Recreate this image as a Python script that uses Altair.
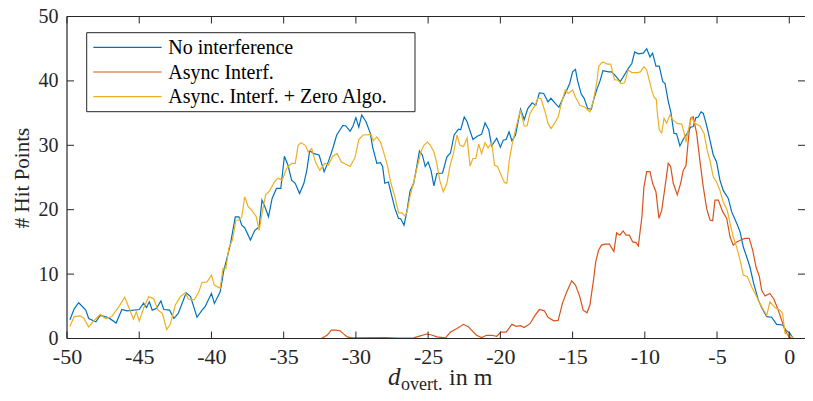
import altair as alt
import pandas as pd

FONT = "Liberation Serif"
AX = "#262626"

series_names = ["No interference", "Async Interf.", "Async. Interf. + Zero Algo."]
series_colors = ["#0072BD", "#D95319", "#EDB120"]

x_ticks = [-50, -45, -40, -35, -30, -25, -20, -15, -10, -5, 0]
y_ticks = [0, 10, 20, 30, 40, 50]

blue_x = [-49.8, -49.5, -49.19, -48.7, -48.5, -48.0, -47.7, -47.1, -46.6, -46.2, -45.85, -45.0, -44.7, -44.5, -44.3,
          -44.1, -43.8, -43.5, -43.3, -42.9, -42.6, -42.3, -41.75, -41.45, -41.0, -40.65, -40.45, -40.0, -39.8, -39.4,
          -39.15, -38.7, -38.35, -38.1, -37.9, -37.7, -37.3, -37.0, -36.7, -36.5, -36.3, -36.05, -35.8, -35.5, -35.2,
          -34.95, -34.7, -34.45, -34.2, -33.9, -33.6, -33.4, -33.2, -32.9, -32.55, -32.2, -31.9, -31.6, -31.33, -30.9,
          -30.7, -30.4, -30.2, -30.0, -29.8, -29.6, -29.3, -29.0, -28.85, -28.55, -28.3, -28.15, -28.0, -27.75, -27.5,
          -27.3, -27.05, -26.9, -26.67, -26.5, -26.25, -26.0, -25.85, -25.6, -25.4, -25.2, -25.0, -24.8, -24.6, -24.4,
          -24.0, -23.7, -23.45, -23.2, -22.9, -22.75, -22.5, -22.3, -22.2, -21.9, -21.6, -21.3, -21.06, -20.8, -20.6,
          -20.25, -20.0, -19.8, -19.6, -19.4, -19.2, -18.95, -18.75, -18.6, -18.35, -18.1, -17.8, -17.55, -17.3, -17.0,
          -16.7, -16.5, -16.2, -15.95, -15.65, -15.4, -15.2, -15.0, -14.8, -14.65, -14.4, -14.2, -13.95, -13.7, -13.55,
          -13.3, -13.1, -12.9, -12.5, -12.3, -12.07, -11.7, -11.5, -11.15, -10.9, -10.7, -10.45, -10.1, -9.87, -9.64,
          -9.46, -9.23, -9.0, -8.76, -8.6, -8.37, -8.2, -7.98, -7.8, -7.57, -7.3, -7.06, -6.83, -6.65, -6.46,
          -6.3, -6.1, -5.95, -5.72, -5.49, -5.26, -5.03, -4.8, -4.57, -4.22, -3.99, -3.64, -3.41, -3.18, -2.95,
          -2.72, -2.49, -2.14, -1.91, -1.56, -1.22, -0.87, -0.46, -0.23, 0.05, 0.28, 2.0]
blue_y = [2.9, 4.6, 5.55, 4.4, 3.1, 2.6, 3.6, 3.2, 2.4, 4.5, 4.3, 4.5, 5.5, 4.8, 5.7,
          4.4, 4.7, 5.85, 4.5, 4.4, 3.1, 3.9, 7.1, 6.5, 3.3, 4.4, 4.9, 7.0, 5.45, 7.2,
          10.5, 14.5, 18.9, 18.9, 17.6, 17.2, 15.3, 16.8, 17.3, 21.5, 20.45, 18.9, 21.75, 23.3, 23.3,
          28.3, 26.9, 24.6, 24.1, 22.5, 24.1, 26.1, 29.15, 28.7, 28.5, 25.9, 27.5, 29.5, 31.6, 33.1,
          33.0, 32.2, 33.0, 34.3, 32.8, 34.7, 33.65, 31.85, 29.8, 27.2, 27.3, 26.7, 24.1, 24.3, 22.0,
          20.2, 18.65, 18.6, 17.6, 19.4, 22.9, 24.1, 25.9, 29.1, 28.5, 26.7, 27.4, 26.1, 23.7, 25.6,
          25.7, 28.2, 28.8, 31.6, 32.5, 32.4, 34.4, 33.65, 32.9, 30.9, 31.4, 31.7, 33.5, 32.4, 29.9,
          31.1, 29.7, 30.8, 30.9, 32.1, 30.7, 31.6, 33.9, 35.6, 34.0, 35.7, 36.6, 36.2, 38.15, 38.05,
          36.75, 37.3, 36.5, 35.9, 37.4, 38.6, 39.6, 41.4, 41.8, 40.0, 37.95, 37.3, 35.7, 35.6, 37.0,
          38.8, 40.0, 41.6, 41.4, 41.4, 40.9, 39.9, 40.6, 41.9, 42.7, 44.5, 44.2, 44.3, 45.0, 43.7,
          44.3, 42.3, 42.3, 39.9, 39.6, 36.75, 35.2, 31.85, 31.8, 29.9, 31.1, 31.85, 32.8, 32.9, 34.3,
          34.4, 35.2, 34.95, 33.1, 30.8, 28.5, 27.4, 24.6, 23.0, 21.75, 19.7, 17.9, 16.6, 14.2, 12.7,
          11.1, 8.8, 5.96, 4.8, 3.4, 3.3, 2.2, 2.1, 1.3, 0.8, 0.0, 0.0]

red_x = [-50.0, -32.4, -32.0, -31.7, -31.4, -31.1, -30.9, -30.6, -30.3, -28.0, -27.0, -26.0, -25.6, -25.1, -24.75,
         -24.4, -23.8, -23.45, -23.0, -22.55, -22.2, -22.0, -21.65, -21.3, -20.95, -20.6, -20.25, -19.96, -19.6, -19.2,
         -18.9, -18.6, -18.35, -17.95, -17.6, -17.3, -16.95, -16.7, -16.3, -16.0, -15.7, -15.4, -15.06, -14.8, -14.5,
         -14.27, -14.0, -13.8, -13.55, -13.4, -13.2, -13.0, -12.76, -12.45, -12.14, -11.95, -11.72, -11.5, -11.3, -11.07,
         -10.84, -10.6, -10.45, -10.2, -10.06, -9.87, -9.64, -9.46, -9.23, -9.02, -8.83, -8.6, -8.38, -8.21, -8.03,
         -7.75, -7.52, -7.34, -7.15, -6.99, -6.83, -6.65, -6.41, -6.18, -5.95, -5.72, -5.49, -5.3, -5.14, -4.91,
         -4.61, -4.33, -4.1, -3.88, -3.64, -3.36, -3.07, -2.77, -2.53, -2.3, -2.07, -1.91, -1.68, -1.34, -1.06,
         -0.76, -0.53, -0.3, 0.0, 0.2, 2.0]
red_y = [0.0, 0.0, 0.5, 1.3, 1.3, 1.2, 0.8, 0.25, 0.1, 0.15, 0.05, 0.1, 0.37, 0.7, 0.55,
         0.25, 0.1, 1.0, 1.55, 2.2, 1.8, 1.3, 0.5, 0.15, 0.5, 0.5, 0.35, 1.0, 1.0, 2.2,
         1.9, 2.0, 1.7, 2.3, 3.6, 4.5, 4.3, 3.3, 2.75, 2.8, 5.45, 7.25, 8.95, 8.3, 6.5,
         4.4, 4.0, 5.2, 9.1, 11.9, 13.7, 14.5, 14.65, 14.65, 13.5, 16.4, 16.05, 16.7, 16.05, 16.05,
         15.0, 14.9, 14.35, 18.9, 23.55, 25.9, 25.9, 24.1, 22.8, 18.65, 19.9, 23.55, 27.2, 26.7, 24.1,
         22.3, 24.1, 26.1, 26.8, 30.8, 34.2, 34.4, 31.85, 27.5, 23.5, 20.2, 18.4, 18.3, 21.5, 21.5,
         19.7, 18.65, 15.8, 14.5, 15.0, 15.3, 15.55, 15.55, 13.7, 11.1, 9.6, 7.5, 6.6, 7.0, 6.1,
         4.4, 2.85, 1.3, 0.2, 0.0, 0.0]

yellow_x = [-49.8, -49.5, -49.1, -48.85, -48.5, -48.15, -47.7, -47.35, -46.9, -46.4, -46.0, -45.7, -45.4, -45.2, -45.0,
            -44.7, -44.35, -44.0, -43.7, -43.4, -43.1, -42.85, -42.5, -42.15, -41.8, -41.6, -41.2, -40.9, -40.65, -40.3,
            -40.0, -39.8, -39.4, -39.2, -39.0, -38.8, -38.55, -38.3, -38.1, -37.9, -37.7, -37.45, -37.2, -36.9, -36.7,
            -36.5, -36.25, -35.95, -35.65, -35.4, -35.1, -34.8, -34.45, -34.2, -34.0, -33.8, -33.5, -33.3, -33.06, -32.8,
            -32.5, -32.15, -31.9, -31.6, -31.3, -31.0, -30.4, -30.06, -29.8, -29.5, -29.15, -28.95, -28.8, -28.55, -28.3,
            -28.05, -27.8, -27.6, -27.3, -27.05, -26.8, -26.6, -26.45, -26.26, -26.0, -25.75, -25.5, -25.3, -25.05, -24.85,
            -24.6, -24.4, -24.2, -23.95, -23.7, -23.5, -23.25, -23.0, -22.8, -22.55, -22.3, -22.1, -21.9, -21.7, -21.5,
            -21.3, -21.06, -20.85, -20.6, -20.4, -20.2, -19.9, -19.7, -19.55, -19.4, -19.2, -18.9, -18.6, -18.35, -18.15,
            -17.95, -17.6, -17.4, -17.2, -16.9, -16.7, -16.5, -16.25, -16.0, -15.75, -15.5, -15.3, -15.0, -14.8, -14.5,
            -14.15, -13.8, -13.55, -13.3, -13.2, -13.0, -12.87, -12.6, -12.36, -12.1, -11.84, -11.67, -11.4, -11.15, -10.9,
            -10.5, -10.3, -10.06, -9.87, -9.69, -9.53, -9.37, -9.2, -9.14, -9.0, -8.83, -8.67, -8.49, -8.26, -8.03,
            -7.75, -7.45, -7.29, -7.15, -6.99, -6.76, -6.53, -6.18, -5.9, -5.68, -5.49, -5.26, -5.03, -4.8, -4.57,
            -4.29, -4.1, -3.88, -3.64, -3.41, -3.18, -2.9, -2.6, -2.37, -2.03, -1.75, -1.56, -1.34, -0.99, -0.64,
            -0.46, -0.3, 0.0, 0.28, 2.0]
yellow_y = [1.9, 3.4, 3.5, 3.2, 1.8, 2.75, 3.75, 3.1, 3.4, 5.0, 6.4, 4.7, 3.0, 4.15, 2.7,
            4.7, 6.5, 6.2, 4.4, 3.9, 1.4, 2.2, 5.2, 6.5, 7.1, 6.1, 6.0, 7.1, 8.7, 8.8,
            9.85, 8.3, 7.8, 10.9, 10.9, 14.0, 15.3, 18.4, 18.4, 18.9, 22.0, 20.45, 19.9, 18.9, 16.8,
            19.4, 22.3, 23.0, 24.3, 24.9, 24.6, 26.4, 27.2, 27.2, 30.0, 30.4, 30.0, 29.0, 29.5, 27.4,
            26.1, 27.2, 26.9, 28.3, 28.7, 27.4, 26.7, 28.1, 30.9, 31.6, 31.65, 31.7, 30.7, 31.3, 30.5,
            28.7, 26.7, 24.3, 22.0, 19.5, 19.5, 19.0, 19.7, 22.0, 24.3, 26.7, 29.0, 30.0, 30.5, 30.0,
            29.0, 27.2, 24.6, 22.8, 24.1, 26.7, 28.7, 31.6, 30.0, 29.8, 31.1, 26.8, 27.95, 27.95, 30.2,
            28.7, 30.4, 29.6, 30.4, 26.9, 26.7, 25.1, 24.2, 24.1, 27.4, 30.0, 32.9, 35.5, 33.0, 33.0,
            34.95, 36.2, 37.3, 37.3, 35.2, 33.4, 32.6, 33.4, 34.4, 36.75, 38.6, 38.05, 38.6, 37.5, 36.2,
            35.9, 35.2, 37.0, 40.1, 42.2, 42.8, 42.9, 42.6, 42.6, 40.2, 40.1, 39.6, 39.7, 41.7, 41.3,
            41.3, 41.4, 42.2, 41.7, 40.1, 38.6, 37.5, 37.1, 35.2, 32.4, 31.9, 34.2, 33.4, 34.7, 33.9,
            33.4, 33.3, 32.1, 30.5, 32.4, 34.3, 33.4, 33.0, 31.85, 29.25, 27.6, 25.1, 24.3, 23.0, 21.2,
            19.9, 17.9, 15.8, 14.2, 12.2, 9.85, 9.6, 8.0, 7.0, 5.45, 4.3, 3.6, 5.7, 4.8, 4.4,
            3.9, 0.8, 0.6, 0.0, 0.0]

title_parts = ["d", "overt.", "in m"]

W, H = 738, 322

rows = []
for name, xs, ys in [(series_names[0], blue_x, blue_y),
                     (series_names[1], red_x, red_y),
                     (series_names[2], yellow_x, yellow_y)]:
    for i, (a, b) in enumerate(zip(xs, ys)):
        rows.append({"series": name, "x": a, "y": b, "idx": i})
df = pd.DataFrame(rows)

xscale = alt.Scale(domain=[-50, 1.09], nice=False, zero=False)
yscale = alt.Scale(domain=[0, 50], nice=False, zero=False)
cscale = alt.Scale(domain=series_names, range=series_colors)

xaxis = alt.Axis(values=x_ticks, title=None, ticks=False, tickSize=0, domain=False, grid=False,
                 labelFont=FONT, labelFontSize=22, labelColor=AX, labelPadding=8,
                 labelFlush=False, labelExpr="datum.value + ''")
yaxis = alt.Axis(values=y_ticks, title="# Hit Points", ticks=False, tickSize=0, domain=False, grid=False,
                 labelFont=FONT, labelFontSize=20, labelColor=AX, labelPadding=9,
                 labelFlush=False, titleFont=FONT, titleFontSize=21, titleFontWeight="normal",
                 titleColor=AX, titlePadding=6)

lines = alt.Chart(df).mark_line(strokeWidth=1.2, clip=True).encode(
    x=alt.X("x:Q", scale=xscale, axis=xaxis),
    y=alt.Y("y:Q", scale=yscale, axis=yaxis),
    color=alt.Color("series:N", scale=cscale, legend=None),
    order="idx:Q",
)

xt = pd.DataFrame({"t": x_ticks})
yt = pd.DataFrame({"t": y_ticks})
one = pd.DataFrame({"k": [0]})
tick_style = dict(stroke=AX, strokeWidth=1)
bottom_ticks = alt.Chart(xt).mark_rule(**tick_style).encode(
    x=alt.X("t:Q", scale=xscale, axis=xaxis), y=alt.value(H), y2=alt.value(H - 7))
top_ticks = alt.Chart(xt).mark_rule(**tick_style).encode(
    x=alt.X("t:Q", scale=xscale, axis=xaxis), y=alt.value(0), y2=alt.value(7))
left_ticks = alt.Chart(yt).mark_rule(**tick_style).encode(
    y=alt.Y("t:Q", scale=yscale, axis=yaxis), x=alt.value(0), x2=alt.value(7))
right_ticks = alt.Chart(yt).mark_rule(**tick_style).encode(
    y=alt.Y("t:Q", scale=yscale, axis=yaxis), x=alt.value(W - 7), x2=alt.value(W))

frame_style = dict(stroke=AX, strokeWidth=1.2)
frame_top = alt.Chart(one).mark_rule(**frame_style).encode(x=alt.value(0), x2=alt.value(W), y=alt.value(0))
frame_bottom = alt.Chart(one).mark_rule(**frame_style).encode(x=alt.value(0), x2=alt.value(W), y=alt.value(H))
frame_left = alt.Chart(one).mark_rule(**frame_style).encode(x=alt.value(0), y=alt.value(0), y2=alt.value(H))

# legend (guide) built from the series names and the colour scale
LX0, LX1, LY0, LY1 = 19.7, 348, 16.2, 95.2
ROW0, ROWSTEP = 30.8, 24.7
legend_layers = [alt.Chart(one).mark_rect(fill="white", stroke=AX, strokeWidth=1).encode(
    x=alt.value(LX0), x2=alt.value(LX1), y=alt.value(LY0), y2=alt.value(LY1))]
for i, name in enumerate(series_names):
    ldf = pd.DataFrame({"series": [name]})
    ry = ROW0 + i * ROWSTEP
    legend_layers.append(alt.Chart(ldf).mark_rule(strokeWidth=1.2).encode(
        color=alt.Color("series:N", scale=cscale, legend=None),
        x=alt.value(26.3), x2=alt.value(94.7), y=alt.value(ry)))
    legend_layers.append(alt.Chart(ldf).mark_text(
        font=FONT, fontSize=20, fill="black", align="left", baseline="middle").encode(
        text="series:N", x=alt.value(101.3), y=alt.value(ry + 0.5)))

t_d = alt.Chart(pd.DataFrame({"t": [title_parts[0]]})).mark_text(
    font=FONT, fontSize=25, fontStyle="italic", fill=AX, align="left", baseline="alphabetic").encode(
    text="t:N", x=alt.value(321), y=alt.value(368))
t_sub = alt.Chart(pd.DataFrame({"t": [title_parts[1]]})).mark_text(
    font=FONT, fontSize=18, fill=AX, align="left", baseline="alphabetic").encode(
    text="t:N", x=alt.value(334), y=alt.value(373))
t_rest = alt.Chart(pd.DataFrame({"t": [title_parts[2]]})).mark_text(
    font=FONT, fontSize=24, fill=AX, align="left", baseline="alphabetic").encode(
    text="t:N", x=alt.value(382), y=alt.value(368))

chart = alt.layer(lines, bottom_ticks, top_ticks, left_ticks, right_ticks,
                  frame_top, frame_bottom, frame_left, *legend_layers, t_d, t_sub, t_rest).properties(
    width=W, height=H,
    autosize=alt.AutoSizeParams(type="none"),
    padding={"left": 59, "top": 8.5, "right": 0, "bottom": 53.5},
    background="white",
).configure_view(strokeWidth=0)

chart.save("out.html", embed_options={"renderer": "svg", "actions": False})
